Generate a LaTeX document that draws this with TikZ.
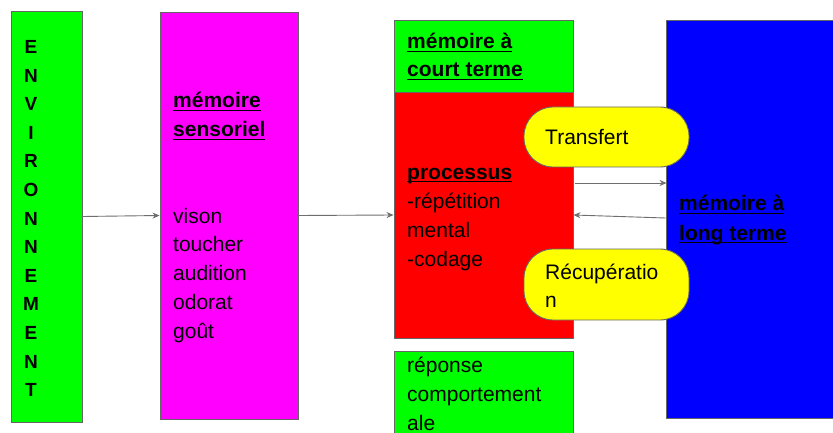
\documentclass[tikz,border=0pt]{standalone}
\usepackage{fontspec}
\setmainfont{Liberation Sans}
\usetikzlibrary{arrows.meta}
\definecolor{lgreen}{HTML}{00FF00}
\definecolor{lmag}{HTML}{FF00FF}
\definecolor{lred}{HTML}{FF0000}
\definecolor{lblue}{HTML}{0000FF}
\definecolor{lyel}{HTML}{FFFF00}
\definecolor{edge}{HTML}{666666}
\definecolor{arrc}{HTML}{6E6E6E}
\newcommand\ulb[1]{\setbox0\hbox{#1}\rlap{\rule[-3pt]{\wd0}{1.4pt}}\box0}
\tikzset{
  box/.style={draw=edge, line width=0.9pt, inner sep=0pt, rectangle},
  pill/.style={draw=edge, line width=0.9pt, fill=lyel, rounded corners=29pt},
  txt/.style={anchor=base west, inner sep=0pt, font=\fontsize{21}{29}\selectfont},
  letter/.style={anchor=base, inner sep=0pt, font=\fontsize{19}{22}\selectfont\bfseries},
  arr/.style={draw=arrc, line width=0.9pt, -{Stealth[length=7pt,width=6pt]}}
}
\begin{document}
\begin{tikzpicture}[x=1pt,y=-1pt]
\clip (0,0) rectangle (833,433);
\fill[white] (0,0) rectangle (833,433);
% boxes
\node[box, fill=lgreen, minimum width=71pt, minimum height=411pt] (env) at (46.5,216.5) {};
\node[box, fill=lmag, minimum width=138pt, minimum height=407pt] (sens) at (229,215.5) {};
\node[box, fill=lgreen, minimum width=179pt, minimum height=72pt] (ctm) at (483.5,56) {};
\node[box, fill=lred, minimum width=179pt, minimum height=246pt] (red) at (483.5,215) {};
\node[box, fill=lgreen, minimum width=179pt, minimum height=100pt] (rep) at (483.5,401) {};
\node[box, fill=lblue, minimum width=180pt, minimum height=398pt] (ltm) at (756,219) {};
% pills
\draw[pill] (524,107) rectangle (689,167);
\node[inner sep=0pt, minimum width=165pt, minimum height=60pt] (tr) at (606.5,137) {};
\draw[pill] (524,249) rectangle (689,320);
\node[inner sep=0pt, minimum width=165pt, minimum height=71pt] (rc) at (606.5,284.5) {};
% arrows
\draw[arr] (env.east) -- (sens.west);
\draw[arr] (sens.east) -- (red.west);
\draw[arr] ([xshift=2pt]red.east |- 0,183) -- ([xshift=1pt]ltm.west |- 0,183);
\draw[arr] (ltm.west |- 0,218) -- (red.east |- 0,215);
% ENVIRONNEMENT
\foreach \l [count=\i from 0] in {E,N,V,I,R,O,N,N,E,M,E,N,T}{
  \node[letter] (envl\i) at (31,53.5+28.6*\i) {\l};
}
% sensoriel
\node[txt] (s1) at (173,108) {\bfseries\ulb{mémoire}};
\node[txt] (s2) at (173,137) {\bfseries\ulb{sensoriel}};
\foreach \w [count=\i from 0] in {vison,toucher,audition,odorat,goût}{
  \node[txt] (sl\i) at (173,223+28.8*\i) {\w};
}
% short term
\node[txt] (c1) at (407,49) {\bfseries\ulb{mémoire à}};
\node[txt] (c2) at (407,77) {\bfseries\ulb{court terme}};
\node[txt] (p1) at (407,179) {\bfseries\ulb{processus}};
\node[txt] (p2) at (407,208) {-répétition};
\node[txt] (p3) at (407,237) {mental};
\node[txt] (p4) at (407,266) {-codage};
% pills text
\node[txt] (t1) at (545,145) {Transfert};
\node[txt] (r1) at (545,279) {Récupératio};
\node[txt] (r2) at (545,307) {n};
% response
\node[txt] (e1) at (407,372) {réponse};
\node[txt] (e2) at (407,401) {comportement};
\node[txt] (e3) at (407,430) {ale};
% long term
\node[txt] (l1) at (679,211) {\bfseries\ulb{mémoire à}};
\node[txt] (l2) at (679,240) {\bfseries\ulb{long terme}};
\end{tikzpicture}
\end{document}
